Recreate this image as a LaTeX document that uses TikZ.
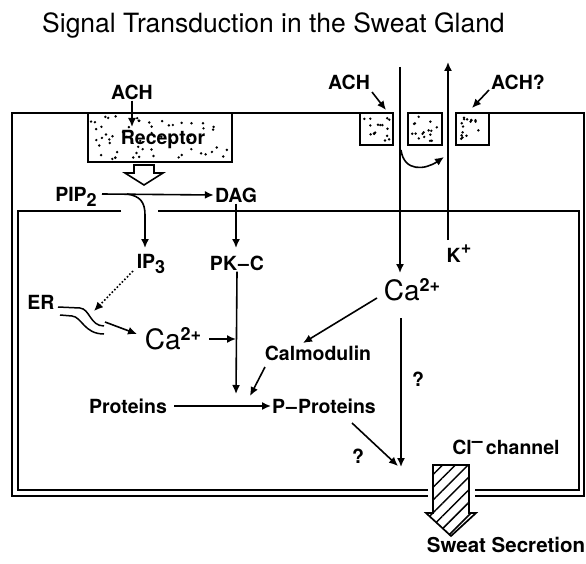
\documentclass[tikz,border=0pt]{standalone}
\usepackage{fontspec}
\setmainfont{TeX Gyre Heros}
\usetikzlibrary{arrows.meta,patterns.meta,calc}
\tikzset{
  lbl/.style={font=\fontsize{19.5}{21}\selectfont\bfseries, inner sep=1pt},
  big/.style={font=\fontsize{28}{30}\selectfont, inner sep=1pt},
  arr/.style={line width=1.6pt, -{Latex[length=9pt,width=8pt]}},
  memb/.style={line width=1.6pt},
  box/.style={line width=1.8pt},
}
\newcommand{\stipple}[5]{% x y w h n
  \foreach \k in {1,...,#5}{\fill ({#1+3+(#3-6)*rnd},{#2+3+(#4-6)*rnd}) circle (1.35pt);}}
\newcommand{\lsub}[1]{\raisebox{-5pt}{\fontsize{18}{18}\selectfont\bfseries #1}}
\newcommand{\lsup}[1]{\raisebox{9pt}{\fontsize{18}{18}\selectfont\bfseries #1}}
\begin{document}
\begin{tikzpicture}[x=1pt,y=-1pt]
\useasboundingbox (0,0) rectangle (586,564);
\pgfmathsetseed{7}
% title
\node[anchor=base west, font=\fontsize{26.5}{28}\selectfont, inner sep=0pt] (title) at (42,33) {Signal Transduction in the Sweat Gland};

% outer membrane
\draw[memb] (88,113) -- (12,113) -- (12,496) -- (428,496);
\draw[memb] (475,496) -- (584,496) -- (584,113) -- (489,113);
\draw[memb] (232,113) -- (360,113);
% inner membrane
\draw[memb] (121,211) -- (18,211) -- (18,490) -- (428,490);
\draw[memb] (475,490) -- (579,490) -- (579,211) -- (158,211);

% receptor
\draw[box,fill=white] (88,113) rectangle (232,162);
\stipple{88}{113}{144}{49}{60}
\node[lbl] (rec) at (163,140) {Receptor};
% channel squares
\draw[box] (360,113) rectangle (393,145);
\stipple{360}{113}{33}{32}{16}
\draw[box] (408,113) rectangle (442,145);
\stipple{408}{113}{34}{32}{16}
\draw[box] (456,113) rectangle (489,145);
\stipple{456}{113}{33}{32}{16}

% labels
\node[lbl] (ach1) at (132,92) {ACH};
\node[lbl] (ach2) at (349,82) {ACH};
\node[lbl] (ach3) at (518,82) {ACH?};
\node[lbl] (pip) at (76,197) {PIP\lsub{2}};
\node[lbl] (dag) at (236,195) {DAG};
\node[lbl] (ip3) at (151,264) {IP\lsub{3}};
\node[lbl] (pkc) at (237,263) {PK\kern1pt--\kern1ptC};
\node[lbl] (er) at (41,302) {ER};
\node[big] (ca1) at (173,339) {Ca\lsup{2+}};
\node[big] (ca2) at (412,290) {Ca\lsup{2+}};
\node[lbl] (kp) at (459,254) {K\lsup{+}};
\node[lbl] (calm) at (318,353) {Calmodulin};
\node[lbl] (prot) at (128,406) {Proteins};
\node[lbl] (pprot) at (324,406) {P\kern1pt--\kern1ptProteins};
\node[lbl] (q1) at (418,379) {?};
\node[lbl] (q2) at (358,456) {?};
\node[lbl] (cl) at (506,447) {Cl\raisebox{7pt}{--}\,channel};
\node[lbl, font=\fontsize{20.5}{22}\selectfont\bfseries] (sweat) at (506,545) {Sweat Secretion};

% receptor input
\coordinate (achtip) at (132,127);
\draw[arr] (ach1.south) -- (achtip);
% hollow block arrow below receptor
\draw[line width=1.6pt, fill=white] (134,165) -- (154,165) -- (154,173) -- (163,173) -- (144,185) -- (125,173) -- (134,173) -- cycle;

% PIP2 -> DAG
\coordinate (pipR) at (102,194);
\draw[arr] (pipR) -- (dag.west);
% curved PIP2 -> IP3
\coordinate (pipc) at (127,194);
\draw[arr] (pipc) .. controls (140,196) and (145,202) .. (145,215) -- (145,248);
% DAG -> PK-C
\coordinate (pkctop) at (236,248);
\draw[arr] (dag.south) -- (pkctop);
% PK-C -> P-Proteins
\coordinate (pkpp) at (236,394);
\draw[arr] (pkc.south) -- (pkpp);
% IP3 -> ER (dotted)
\coordinate (ip3s) at (133,271);
\coordinate (ertip) at (94,311);
\draw[line width=1.6pt, dotted, -{Latex[length=9pt,width=8pt]}] (ip3s) -- (ertip);
% ER curves
\draw[line width=1.5pt] (58,307) -- (80,308) .. controls (90,309) and (90,326) .. (104,326);
\draw[line width=1.5pt] (60,315) -- (72,316) .. controls (82,317) and (84,334) .. (104,334);
% ER -> Ca
\coordinate (ers) at (105,322);
\coordinate (cain) at (137,334);
\draw[arr] (ers) -- (cain);
% Ca -> PK-C line
\coordinate (cas) at (209,339);
\coordinate (capk) at (236,339);
\draw[arr] (cas) -- (capk);
% Proteins -> P-Proteins
\draw[arr] (prot.east) ++(6,0) -- (pprot.west);
% Calmodulin -> P-Proteins
\coordinate (calms) at (265,367);
\coordinate (calpp) at (250,396);
\draw[arr] (calms) -- (calpp);
% Ca2+ -> Calmodulin
\coordinate (ca2w) at (377,298);
\coordinate (calmn) at (303,343);
\draw[arr] (ca2w) -- (calmn);
% Ca channel line
\coordinate (catop) at (400,67);
\coordinate (cabot) at (400,273);
\draw[arr] (catop) -- (cabot);
% curved arrow in channel
\coordinate (cvs) at (401,150);
\coordinate (cve) at (444,157);
\draw[line width=1.6pt, -{Latex[length=9pt,width=8pt]}] (cvs) .. controls (404,172) and (425,170) .. (cve);
% K+ line
\coordinate (ktop) at (448,62);
\coordinate (kbot) at (448,240);
\draw[arr] (kbot) -- (ktop);
% ACH arrows to channels
\coordinate (a2s) at (372,92);
\coordinate (a2e) at (386,110);
\draw[arr] (a2s) -- (a2e);
\coordinate (a3s) at (489,90);
\coordinate (a3e) at (472,108);
\draw[arr] (a3s) -- (a3e);
% Ca2+ -> Cl channel
\coordinate (ca2s) at (401,318);
\coordinate (cltip) at (401,467);
\draw[arr] (ca2s) -- (cltip);
% P-Proteins -> Cl channel
\coordinate (pps) at (352,423);
\coordinate (ppe) at (398,466);
\draw[arr] (pps) -- (ppe);

% Cl channel hatched block arrow
\draw[line width=1.7pt, pattern={Lines[angle=45,distance=9pt,line width=1.5pt]}]
  (433,465) -- (469,465) -- (469,513) -- (476,513) -- (451,536) -- (426,513) -- (433,513) -- cycle;
\end{tikzpicture}
\end{document}
